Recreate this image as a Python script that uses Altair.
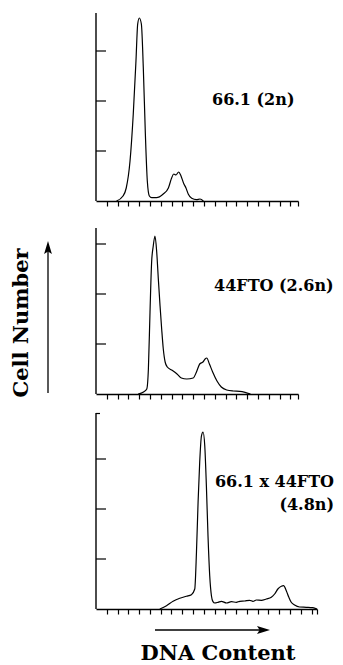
import altair as alt
import pandas as pd

FONT = "DejaVu Serif"

# Panel 1: 66.1 (2n)
p1_ch = [19, 25, 28, 31.5, 34.5, 37, 38.6, 40.1, 42, 43.8, 45.7, 47.5, 49.4, 51.5, 56, 62,
         67, 70, 72, 74, 76.5, 78.7, 81, 83.3, 85.5, 88.6, 93, 96.3, 99.4]
p1_n = [0, 5, 13, 40, 87, 140, 177, 183, 177, 133, 67, 20, 5, 3.3, 3.3, 6.7,
        13, 23, 27, 26, 29, 25, 18, 13, 6.7, 2.7, 1.3, 2, 0]

# Panel 2: 44FTO (2.6n)
p2_ch = [39, 44, 47, 48.5, 50, 51.5, 53, 54.6, 56.2, 57.7, 59.3, 60.8, 62.3, 64, 66, 70, 75,
         79, 84, 90, 93, 96, 99, 101, 102.5, 105, 108, 112, 116, 121, 127, 133, 138, 143]
p2_n = [0, 2, 5, 25, 82, 132, 148, 158, 142, 115, 88, 65, 45, 32, 27, 24, 20,
        16, 15, 16, 22, 30, 32, 35, 36, 30, 22, 13, 7, 4, 3, 2.7, 1.7, 0]

# Panel 3: 66.1 x 44FTO (4.8n)
p3_ch = [59.2, 65.4, 71.5, 77.7, 83.9, 88.5, 91.6, 93.2, 94.7, 96.2, 97.8, 99.3, 100.9, 102.4,
         103.9, 105.5, 107.1, 108.5, 110.1, 113.2, 116.3, 121.0, 125.6, 130.2, 133.3, 137.9,
         142.5, 145.6, 148.7, 153.4, 158.0, 162.6, 165.7, 168.7, 171.9, 174.0, 176.5, 178.9,
         181.1, 184.2, 188.8, 195.0, 201.1, 205]
p3_n = [0, 3.3, 7.7, 10.7, 12.7, 14.3, 20, 57, 107, 147, 173, 177, 163, 123,
        73, 33, 13, 7.3, 6, 6.7, 7.7, 6, 7.3, 6.7, 7.7, 8,
        8.7, 7.7, 9, 8.7, 10, 11.7, 15, 20, 22.7, 23.3, 18.3, 11.7,
        6.7, 4, 2, 1.7, 1.3, 0]

y_ticks = [50, 100, 150]
x_ticks_short = [10, 20, 30, 40, 50, 60, 70, 80, 90, 100, 110, 120, 130, 140, 150, 160, 170, 180, 187]
x_ticks_long = [10, 20, 30, 40, 50, 60, 70, 80, 90, 100, 110, 120, 130, 140, 150, 160, 170, 180,
                190, 200, 205]

one = pd.DataFrame({"a": [0]})


def text(s, x, y, align="left", size=16, baseline="middle", angle=0):
    return alt.Chart(one).mark_text(
        font=FONT, fontSize=size, fontWeight="bold", color="black",
        align=align, baseline=baseline, angle=angle
    ).encode(x=alt.value(x), y=alt.value(y), text=alt.value(s))


def vrule(x, y, y2, w=1.4):
    return alt.Chart(one).mark_rule(color="black", strokeWidth=w).encode(
        x=alt.value(x), y=alt.value(y), y2=alt.value(y2))


def panel(ch, n, xmax, ymax, w, h, xticks, axis_top, extra):
    line = alt.Chart(pd.DataFrame({"ch": ch, "n": n})).mark_line(
        color="black", strokeWidth=1.2, interpolate="monotone"
    ).encode(
        x=alt.X("ch:Q", scale=alt.Scale(domain=[0, xmax], nice=False, zero=False),
                axis=alt.Axis(values=xticks, labels=False, title=None, grid=False,
                              ticks=True, tickSize=5, tickColor="black", tickWidth=1.2,
                              domainColor="black", domainWidth=1.4)),
        y=alt.Y("n:Q", scale=alt.Scale(domain=[0, ymax], nice=False), axis=None),
    )
    yt = alt.Chart(pd.DataFrame({"v": y_ticks})).mark_rule(
        color="black", strokeWidth=1.2
    ).encode(y=alt.Y("v:Q", axis=None), x=alt.value(0), x2=alt.value(10))
    return alt.layer(vrule(0, axis_top, h), line, yt, *extra).properties(width=w, height=h)


p1 = panel(p1_ch, p1_n, 187, 188, 202, 188, x_ticks_short, 0,
           [text("66.1 (2n)", 116, 87)])
p2 = panel(p2_ch, p2_n, 187, 174, 202, 174, x_ticks_short, 8,
           [text("44FTO (2.6n)", 118, 66)])

arrow_h = alt.Chart(one).mark_rule(color="black", strokeWidth=1.3).encode(
    x=alt.value(59), x2=alt.value(168), y=alt.value(217))
head_h = alt.Chart(one).mark_point(
    shape="M1,0L-1,0.6L-0.6,0L-1,-0.6Z", filled=True, color="black", opacity=1, size=169
).encode(x=alt.value(167.5), y=alt.value(217))
top_tick = alt.Chart(one).mark_rule(color="black", strokeWidth=1.2).encode(
    x=alt.value(0), x2=alt.value(4), y=alt.value(0.5))

p3 = panel(p3_ch, p3_n, 205, 196, 221, 196, x_ticks_long, 0,
           [top_tick,
            text("66.1 x 44FTO", 238, 69, align="right"),
            text("(4.8n)", 238, 92, align="right"),
            arrow_h, head_h,
            text("DNA Content", 122, 247, align="center", size=21, baseline="alphabetic")])

arrow_v = alt.Chart(one).mark_rule(color="black", strokeWidth=1.3).encode(
    x=alt.value(40), y=alt.value(380), y2=alt.value(235))
head_v = alt.Chart(one).mark_point(
    shape="M0,-1L0.6,1L0,0.6L-0.6,1Z", filled=True, color="black", opacity=1, size=169
).encode(x=alt.value(40), y=alt.value(234.5))
left = alt.layer(
    text("Cell Number", 20, 310, align="center", size=21, baseline="alphabetic", angle=270),
    arrow_v, head_v,
).properties(width=80, height=600)

col = alt.vconcat(p1, p2, p3, spacing=19, bounds="flush")

chart = alt.hconcat(left, col, spacing=8, bounds="flush").properties(
    padding={"left": 0, "top": 4, "right": 0, "bottom": 0}
).configure_view(stroke=None)

chart.save("out.html", embed_options={"renderer": "svg", "actions": False})
